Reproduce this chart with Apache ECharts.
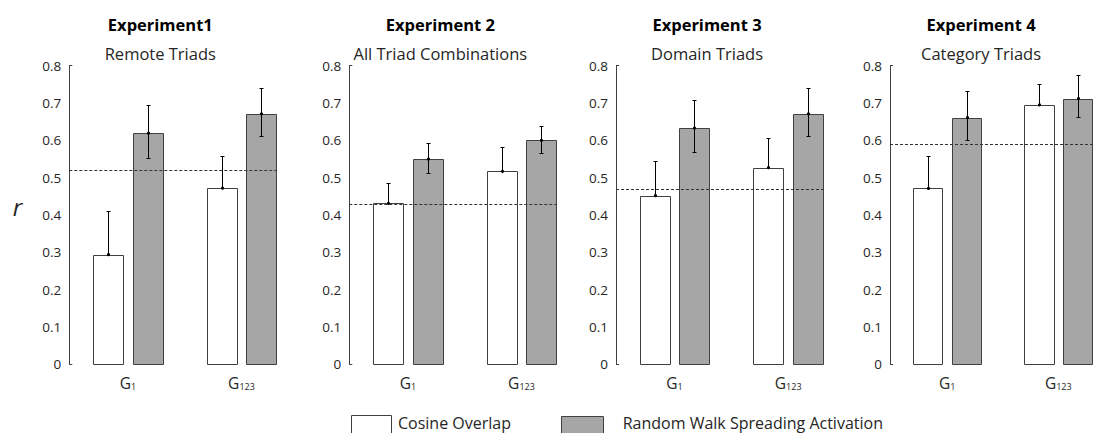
<!DOCTYPE html>
<html>
<head>
<meta charset="utf-8">
<script src="https://cdn.jsdelivr.net/npm/echarts@6/dist/echarts.min.js"></script>
<style>html,body{margin:0;padding:0;background:#fff;}#chart{width:1093px;height:433px;}</style>
</head>
<body>
<div id="chart"></div>
<script>
// ---- data ----
const categoryBase = ['G', 'G'];
const categorySub = ['1', '123'];
const panelTitles = ['Experiment1', 'Experiment 2', 'Experiment 3', 'Experiment 4'];
const panelSubtitles = ['Remote Triads', 'All Triad Combinations', 'Domain Triads', 'Category Triads'];
const seriesNames = ['Cosine Overlap', 'Random Walk Spreading Activation'];
const cosineMean = [[0.294, 0.472], [0.431, 0.517], [0.452, 0.527], [0.471, 0.695]];
const cosineErrHigh = [[0.412, 0.557], [0.487, 0.583], [0.546, 0.606], [0.558, 0.750]];
const rwsaMean = [[0.619, 0.671], [0.550, 0.600], [0.633, 0.671], [0.661, 0.712]];
const rwsaErrLow = [[0.552, 0.612], [0.512, 0.566], [0.569, 0.612], [0.601, 0.662]];
const rwsaErrHigh = [[0.694, 0.739], [0.592, 0.639], [0.707, 0.739], [0.731, 0.775]];
const baseline = [0.520, 0.431, 0.469, 0.593];
const yMin = 0, yMax = 0.8, yStep = 0.1;
const yTickLabels = ['0', '0.1', '0.2', '0.3', '0.4', '0.5', '0.6', '0.7', '0.8'];

// ---- layout ----
const FONT = 'Open Sans';
const TXT = '#262626';
const panelLeft = [69.3, 349.3, 616, 890];
const panelWidth = 207.7;
const gridTop = 65.7, gridHeight = 298.6;
const xMin = 0.485, xMax = 2.3125;
const barOffset = 0.175, barHalf = 0.132;

const chart = echarts.init(document.getElementById('chart'), null, { renderer: 'svg' });

function makeRender(kind) {
  return function (params, api) {
    const x = api.value(0), m = api.value(1), lo = api.value(2), hi = api.value(3);
    const off = kind === 'cos' ? -barOffset : barOffset;
    const pTL = api.coord([x + off - barHalf, m]);
    const pBR = api.coord([x + off + barHalf, 0]);
    const cx = Math.round(api.coord([x + off, 0])[0]) + 0.5;
    const yM = api.coord([x, m])[1];
    const yHi = Math.round(api.coord([x, hi])[1]) + 0.5;
    const yLo = kind === 'cos' ? yM : Math.round(api.coord([x, lo])[1]) + 0.5;
    const L = Math.round(pTL[0]) + 0.5, R = Math.round(pBR[0]) + 0.5;
    const T = Math.round(pTL[1]) + 0.5, B = Math.round(pBR[1]) + 0.5;
    const children = [
      { type: 'rect', shape: { x: L, y: T, width: R - L, height: B - T },
        style: { fill: kind === 'cos' ? '#ffffff' : '#a6a6a6', stroke: '#404040', lineWidth: 1 } },
      { type: 'line', shape: { x1: cx, y1: yLo, x2: cx, y2: yHi }, style: { stroke: '#000', lineWidth: 1 } },
      { type: 'line', shape: { x1: cx - 2, y1: yHi, x2: cx + 2, y2: yHi }, style: { stroke: '#000', lineWidth: 1 } }
    ];
    if (kind !== 'cos') {
      children.push({ type: 'line', shape: { x1: cx - 2, y1: yLo, x2: cx + 2, y2: yLo }, style: { stroke: '#000', lineWidth: 1 } });
    }
    children.push({ type: 'circle', shape: { cx: cx, cy: yM, r: 1.6 }, style: { fill: '#000' } });
    return { type: 'group', children: children };
  };
}

const grids = [], xAxes = [], yAxes = [], series = [], graphics = [];
for (let p = 0; p < 4; p++) {
  grids.push({ left: panelLeft[p], top: gridTop, width: panelWidth, height: gridHeight, containLabel: false });
  xAxes.push({
    type: 'value', gridIndex: p, min: xMin, max: xMax,
    axisLine: { show: false }, axisTick: { show: false }, splitLine: { show: false },
    axisLabel: {
      customValues: [1, 2], margin: 9, fontFamily: FONT, fontSize: 15.5, color: TXT,
      formatter: function (v) { const i = Math.round(v) - 1; return '{g|' + categoryBase[i] + '}{s|' + categorySub[i] + '}'; },
      rich: {
        g: { fontFamily: FONT, fontSize: 15.5, color: TXT, lineHeight: 18, verticalAlign: 'bottom' },
        s: { fontFamily: FONT, fontSize: 9, color: TXT, lineHeight: 8, verticalAlign: 'bottom' }
      }
    }
  });
  yAxes.push({
    type: 'value', gridIndex: p, min: yMin, max: yMax, interval: yStep,
    axisLine: { show: true, lineStyle: { color: '#404040', width: 1 } },
    axisTick: { show: true, inside: true, length: 3, customValues: [yMin, yMax], lineStyle: { color: '#404040' } },
    splitLine: { show: false },
    axisLabel: { margin: 8, color: TXT, fontFamily: FONT, fontSize: 13.5,
      formatter: function (v) { return yTickLabels[Math.round(v / yStep)]; } }
  });
  series.push({
    type: 'line', xAxisIndex: p, yAxisIndex: p, data: [], z: 1, silent: true,
    markLine: { symbol: 'none', silent: true, label: { show: false },
      lineStyle: { color: '#333', width: 1, type: [3, 2] },
      data: [{ yAxis: baseline[p] }] }
  });
  series.push({
    type: 'custom', name: seriesNames[0], xAxisIndex: p, yAxisIndex: p, z: 3,
    renderItem: makeRender('cos'), encode: { x: 0, y: 1 },
    itemStyle: { color: '#ffffff', borderColor: '#404040' },
    data: cosineMean[p].map((v, i) => [i + 1, v, v, cosineErrHigh[p][i]])
  });
  series.push({
    type: 'custom', name: seriesNames[1], xAxisIndex: p, yAxisIndex: p, z: 3,
    renderItem: makeRender('rw'), encode: { x: 0, y: 1 },
    itemStyle: { color: '#a6a6a6', borderColor: '#404040' },
    data: rwsaMean[p].map((v, i) => [i + 1, v, rwsaErrLow[p][i], rwsaErrHigh[p][i]])
  });
  const cx = panelLeft[p] + 91;
  graphics.push({ type: 'text', x: cx, y: 24.3, style: { text: panelTitles[p], fontFamily: FONT, fontSize: 16.5, fontWeight: 'bold', fill: '#000', align: 'center', verticalAlign: 'middle' } });
  graphics.push({ type: 'text', x: cx, y: 53, style: { text: panelSubtitles[p], fontFamily: FONT, fontSize: 16.5, fill: TXT, align: 'center', verticalAlign: 'middle' } });
}
graphics.push({ type: 'text', x: 17.5, y: 206, style: { text: 'r', fontFamily: FONT, fontSize: 24, fontStyle: 'italic', fill: TXT, align: 'center', verticalAlign: 'middle' } });

// legend (drawn as graphic elements, clipped at the bottom edge like the reference)
graphics.push({ type: 'rect', shape: { x: 351.5, y: 415.5, width: 40, height: 25 }, style: { fill: '#ffffff', stroke: '#404040', lineWidth: 1 } });
graphics.push({ type: 'text', x: 398, y: 422.5, style: { text: seriesNames[0], fontFamily: FONT, fontSize: 16, fill: TXT, align: 'left', verticalAlign: 'middle' } });
graphics.push({ type: 'rect', shape: { x: 561.5, y: 416.5, width: 42, height: 25 }, style: { fill: '#a6a6a6', stroke: '#404040', lineWidth: 1 } });
graphics.push({ type: 'text', x: 622.7, y: 422.5, style: { text: seriesNames[1], fontFamily: FONT, fontSize: 16, fill: TXT, align: 'left', verticalAlign: 'middle' } });

chart.setOption({
  animation: false,
  grid: grids, xAxis: xAxes, yAxis: yAxes, series: series, graphic: graphics
});
</script>
</body>
</html>
